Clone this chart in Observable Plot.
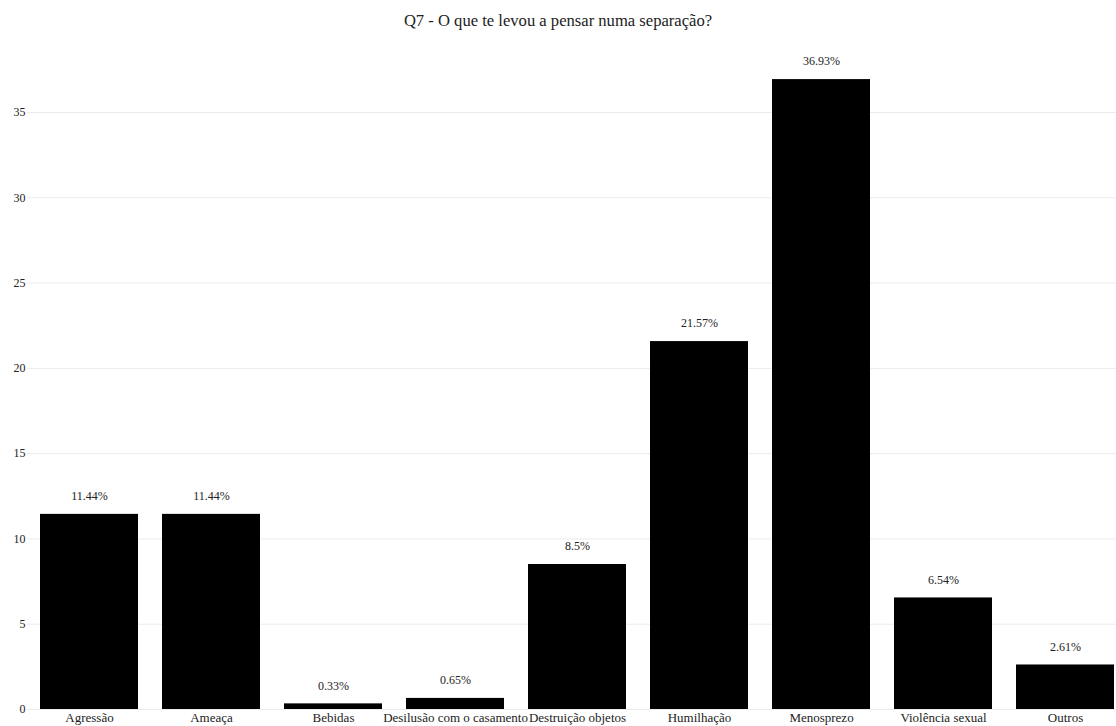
<!DOCTYPE html>
<html>
<head>
<meta charset="utf-8">
<script src="https://cdn.jsdelivr.net/npm/d3@7"></script>
<script src="https://cdn.jsdelivr.net/npm/@observablehq/plot@0.6"></script>
<style>
  html, body { margin: 0; padding: 0; background: #fff; overflow: hidden; }
  #wrap { width: 1116px; height: 726px; overflow: hidden; }
  #title { height: 30px; line-height: 42px; text-align: center; font-size: 16.6px; color: #222; font-family: 'Liberation Serif', 'Times New Roman', serif; overflow: visible; white-space: nowrap; }
  svg { overflow: hidden; }
</style>
</head>
<body>
<div id="wrap">
  <div id="title">Q7 - O que te levou a pensar numa separação?</div>
  <div id="chart"></div>
</div>
<script>
const categories = ["Agressão", "Ameaça", "Bebidas", "Desilusão com o casamento", "Destruição objetos", "Humilhação", "Menosprezo", "Violência sexual", "Outros"];
const values = [11.44, 11.44, 0.33, 0.65, 8.5, 21.57, 36.93, 6.54, 2.61];
const yTicks = [0, 5, 10, 15, 20, 25, 30, 35];

const data = categories.map((c, i) => ({category: c, value: values[i], label: values[i] + "%"}));

const zeroY = 679;
const pxPerUnit = 17.057;

const chart = Plot.plot({
  width: 1116,
  height: 696,
  marginLeft: 27,
  marginRight: 0,
  marginTop: 0,
  marginBottom: 17,
  style: {fontFamily: "'Liberation Serif', 'Times New Roman', serif", fontSize: "12px", color: "#222", background: "#fff"},
  x: {domain: categories, range: [25, 1128], paddingInner: 0.2, paddingOuter: 0.1, axis: null},
  y: {domain: [0, 40], range: [zeroY, zeroY - 40 * pxPerUnit], axis: null},
  marks: [
    Plot.gridY(yTicks, {stroke: "#ebebeb", strokeOpacity: 1, strokeWidth: 1}),
    Plot.axisY(yTicks, {tickSize: 0, tickPadding: 2, fontSize: 12, label: null, textAnchor: "end"}),
    Plot.barY(data, {x: "category", y: "value", fill: "#000"}),
    Plot.ruleY([0], {stroke: "#999", strokeWidth: 1, x1: 25, x2: 1116}),
    Plot.text(data, {x: "category", y: "value", text: "label", dy: -18, fontSize: 12, fill: "#222"}),
    Plot.axisX({tickSize: 0, tickPadding: 3, fontSize: 13, label: null})
  ]
});
document.getElementById("chart").appendChild(chart);
</script>
</body>
</html>
